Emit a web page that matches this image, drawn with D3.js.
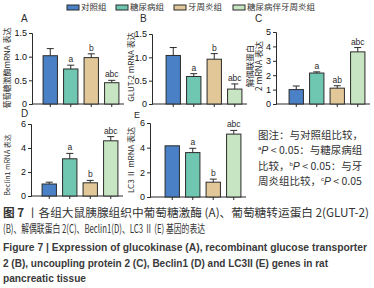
<!DOCTYPE html>
<html>
<head>
<meta charset="utf-8">
<script src="https://cdn.jsdelivr.net/npm/d3@7"></script>
<style>
    body { margin: 0; background: #fff; }
    svg { display: block; }
    .tick text { font-family: "Liberation Sans", Arial, sans-serif; }
</style>
</head>
<body>
<div id="chart"></div>
<script>
// Data
const groups = ["对照组", "糖尿病组", "牙周炎组", "糖尿病伴牙周炎组"];
const colors = ["#4a80c6", "#6fc6b1", "#e2c899", "#c7e5c3"];

const gkMeans = [1.02, 0.74, 0.98, 0.45];
const gkErr = [0.15, 0.08, 0.08, 0.05];
const gkSig = ["", "a", "b", "abc"];

const glutMeans = [1.04, 0.59, 0.96, 0.32];
const glutErr = [0.17, 0.06, 0.12, 0.11];
const glutSig = ["", "a", "b", "abc"];

const ucpMeans = [1.0, 2.15, 1.1, 3.62];
const ucpErr = [0.25, 0.08, 0.17, 0.3];
const ucpSig = ["", "a", "ab", "abc"];

const beclinMeans = [1.0, 3.1, 1.1, 4.6];
const beclinErr = [0.15, 0.45, 0.2, 0.35];
const beclinSig = ["", "a", "b", "abc"];

const lc3Means = [4.15, 3.6, 1.2, 5.1];
const lc3Err = [0, 0.35, 0.25, 0.3];
const lc3Sig = ["", "a", "b", "abc"];

const ticksHalf = [0, 0.5, 1.0, 1.5];
const ticksFive = [0, 1, 2, 3, 4, 5];
const ticksSix = [0, 2, 4, 6];

const cnFont = '"Noto Sans CJK SC", sans-serif';
const enFont = '"Liberation Sans", Arial, sans-serif';
const ink = "#2b2b2b";

const width = 374, height = 288;
const svg = d3.select("#chart").append("svg")
    .attr("width", width)
    .attr("height", height);

class BarPanel {

    constructor(opts) {
        this.opts = opts;
        this.initVis();
    }

    initVis() {
        let vis = this;
        let o = vis.opts;

        vis.g = svg.append("g");

        vis.y = d3.scaleLinear()
            .domain([0, o.max])
            .range([o.y0, o.y1]);

        vis.x = d3.scaleBand()
            .domain(groups)
            .range([o.bx, o.bx + 82])
            .paddingInner(0.3)
            .paddingOuter(0.15);

        // y axis
        let yAxis = d3.axisLeft(vis.y)
            .tickValues(o.ticks)
            .tickSize(3)
            .tickPadding(2)
            .tickFormat(o.fmt);

        let yg = vis.g.append("g")
            .attr("transform", `translate(${o.ax}, 0)`)
            .call(yAxis);
        yg.select(".domain").attr("stroke", ink).attr("stroke-width", 1);
        yg.selectAll(".tick line").attr("stroke", ink);
        yg.selectAll(".tick text")
            .attr("font-size", 9)
            .attr("fill", "#111");

        // x axis
        let xEnd = o.bx + 82 + 2;
        vis.g.append("line")
            .attr("x1", o.ax).attr("x2", xEnd)
            .attr("y1", o.y0).attr("y2", o.y0)
            .attr("stroke", ink);

        vis.g.selectAll(".xtick")
            .data(groups)
            .enter().append("line")
            .attr("x1", d => vis.x(d) + vis.x.bandwidth() / 2)
            .attr("x2", d => vis.x(d) + vis.x.bandwidth() / 2)
            .attr("y1", o.y0).attr("y2", o.y0 + 3)
            .attr("stroke", ink);

        let rows = groups.map((gname, i) => ({
            name: gname, mean: o.means[i], err: o.err[i], sig: o.sig[i], color: colors[i]
        }));

        // Bars
        vis.g.selectAll(".bar")
            .data(rows)
            .enter().append("rect")
            .attr("class", "bar")
            .attr("x", d => vis.x(d.name))
            .attr("width", vis.x.bandwidth())
            .attr("y", d => vis.y(d.mean))
            .attr("height", d => vis.y(0) - vis.y(d.mean))
            .attr("fill", d => d.color)
            .attr("stroke", ink)
            .attr("stroke-width", 1);

        // Error bars (upper only)
        let eb = vis.g.selectAll(".err")
            .data(rows.filter(d => d.err > 0))
            .enter().append("g");
        eb.append("line")
            .attr("x1", d => vis.x(d.name) + vis.x.bandwidth() / 2)
            .attr("x2", d => vis.x(d.name) + vis.x.bandwidth() / 2)
            .attr("y1", d => vis.y(d.mean))
            .attr("y2", d => vis.y(d.mean + d.err))
            .attr("stroke", ink);
        eb.append("line")
            .attr("x1", d => vis.x(d.name) + vis.x.bandwidth() / 2 - 3.5)
            .attr("x2", d => vis.x(d.name) + vis.x.bandwidth() / 2 + 3.5)
            .attr("y1", d => vis.y(d.mean + d.err))
            .attr("y2", d => vis.y(d.mean + d.err))
            .attr("stroke", ink);

        // Significance letters
        vis.g.selectAll(".sig")
            .data(rows.filter(d => d.sig))
            .enter().append("text")
            .attr("x", d => vis.x(d.name) + vis.x.bandwidth() / 2)
            .attr("y", d => vis.y(d.mean + d.err) - 3)
            .attr("text-anchor", "middle")
            .attr("font-family", enFont)
            .attr("font-size", 8.5)
            .attr("fill", ink)
            .text(d => d.sig);

        // Panel letter
        vis.g.append("text")
            .attr("x", o.letterX)
            .attr("y", o.letterY)
            .attr("font-family", enFont)
            .attr("font-size", o.letterSize || 10)
            .attr("fill", ink)
            .text(o.letter);

        // Y title (one or two lines)
        o.title.forEach((t, i) => {
            vis.g.append("text")
                .attr("transform", `translate(${o.titleX + i * 9}, ${o.titleY}) rotate(-90)`)
                .attr("text-anchor", "middle")
                .attr("dominant-baseline", "middle")
                .attr("font-family", cnFont)
                .attr("font-size", o.titleSize)
                .attr("fill", ink)
                .text(t);
        });
    }
}

const fmtHalf = d => d === 0 ? "0" : d3.format(".1f")(d);
const fmtInt = d3.format("d");

new BarPanel({letter: "A", letterX: 21, letterY: 22, ax: 32, bx: 40, y0: 104, y1: 33, max: 1.5,
    ticks: ticksHalf, fmt: fmtHalf, means: gkMeans, err: gkErr, sig: gkSig,
    title: ["葡萄糖激酶mRNA 表达"], titleX: 8, titleY: 68, titleSize: 8});
new BarPanel({letter: "B", letterX: 140, letterY: 22, ax: 152, bx: 163, y0: 104, y1: 34, max: 1.5,
    ticks: ticksHalf, fmt: fmtHalf, means: glutMeans, err: glutErr, sig: glutSig,
    title: ["GLUT-2 mRNA 表达"], titleX: 132, titleY: 67, titleSize: 8});
new BarPanel({letter: "C", letterX: 255, letterY: 22, ax: 276, bx: 286, y0: 104, y1: 32, max: 5,
    ticks: ticksFive, fmt: fmtInt, means: ucpMeans, err: ucpErr, sig: ucpSig,
    title: ["解偶联蛋白", "2 mRNA 表达"], titleX: 251, titleY: 66, titleSize: 8.5});
new BarPanel({letter: "D", letterX: 21, letterY: 117, ax: 31, bx: 39, y0: 196, y1: 124, max: 6,
    ticks: ticksSix, fmt: fmtInt, means: beclinMeans, err: beclinErr, sig: beclinSig,
    title: ["Beclin1 mRNA 表达"], titleX: 8, titleY: 165, titleSize: 7});
new BarPanel({letter: "E", letterX: 134, letterY: 118, letterSize: 9, ax: 150, bx: 162, y0: 197, y1: 123, max: 6,
    ticks: ticksSix, fmt: fmtInt, means: lc3Means, err: lc3Err, sig: lc3Sig,
    title: ["LC3 Ⅱ mRNA 表达"], titleX: 132, titleY: 160, titleSize: 8});

// Legend
const legendX = [67, 116, 174, 233];
const legend = svg.append("g");
groups.forEach((gname, i) => {
    legend.append("rect")
        .attr("x", legendX[i]).attr("y", 5)
        .attr("width", 12).attr("height", 5)
        .attr("fill", colors[i])
        .attr("stroke", ink);
    legend.append("text")
        .attr("x", legendX[i] + 14).attr("y", 8)
        .attr("dominant-baseline", "middle")
        .attr("font-family", cnFont)
        .attr("font-size", 8.5)
        .attr("fill", "#333")
        .text(gname);
});

// Note
const note = svg.append("g")
    .attr("font-family", cnFont)
    .attr("font-size", 10.5)
    .attr("fill", "#333");
const noteLines = [
    [["图注：与对照组比较，"]],
    [["a", "sup"], ["P", "it"], [" < 0.05：与糖尿病组"]],
    [["比较，"], ["b", "sup"], ["P", "it"], [" < 0.05：与牙"]],
    [["周炎组比较，"], ["c", "sup"], ["P", "it"], [" < 0.05"]]
];
noteLines.forEach((parts, i) => {
    let t = note.append("text").attr("x", 258).attr("y", 139 + i * 15.3);
    parts.forEach(p => {
        let s = t.append("tspan").text(p[0]);
        if (p[1] === "sup") s.attr("font-size", 6).attr("dy", -4).attr("font-family", enFont);
        if (p[1] === "it") s.attr("font-style", "italic").attr("dy", 4).attr("font-family", enFont);
    });
});

// Caption
const cap = svg.append("g").attr("fill", "#333");
cap.append("text")
    .attr("x", 3).attr("y", 217)
    .attr("font-family", cnFont).attr("font-size", 11.5)
    .attr("textLength", 366).attr("lengthAdjust", "spacingAndGlyphs")
    .html('<tspan font-weight="bold">图 7</tspan> 丨各组大鼠胰腺组织中葡萄糖激酶 (A)、葡萄糖转运蛋白 2(GLUT-2)');
cap.append("text")
    .attr("x", 3).attr("y", 233)
    .attr("font-family", cnFont).attr("font-size", 11.5)
    .attr("textLength", 202).attr("lengthAdjust", "spacingAndGlyphs")
    .text("(B)、解偶联蛋白 2(C)、Beclin1(D)、LC3 Ⅱ (E) 基因的表达");

const enLines = [
    ["Figure 7  |  Expression of glucokinase (A), recombinant glucose transporter", 364],
    ["2 (B), uncoupling protein 2 (C), Beclin1 (D) and LC3II (E) genes in rat", 325],
    ["pancreatic tissue", 83]
];
enLines.forEach((l, i) => {
    cap.append("text")
        .attr("x", 3).attr("y", 251 + i * 15.5)
        .attr("font-family", enFont).attr("font-weight", "bold").attr("font-size", 10.5)
        .attr("fill", "#3a3a3a")
        .attr("textLength", l[1]).attr("lengthAdjust", "spacingAndGlyphs")
        .text(l[0]);
});
</script>
</body>
</html>
